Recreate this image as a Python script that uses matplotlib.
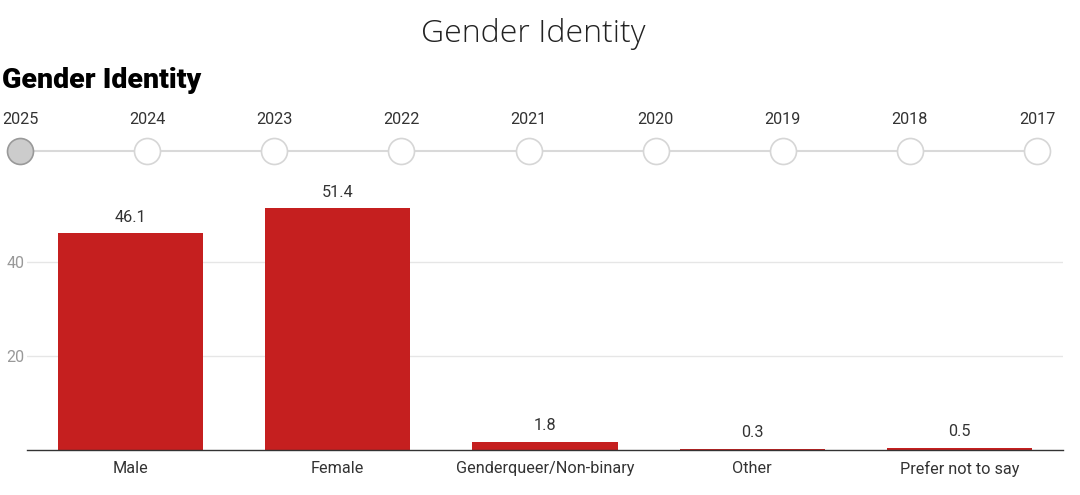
import numpy as np
import matplotlib.pyplot as plt

categories = ["Male", "Female", "Genderqueer/Non-binary", "Other", "Prefer not to say"]
values = [46.1, 51.4, 1.8, 0.3, 0.5]
years = ["2025", "2024", "2023", "2022", "2021", "2020", "2019", "2018", "2017"]
selected = "2025"

W, H = 1080, 495
fig = plt.figure(figsize=(W / 100, H / 100), dpi=100)
plt.rcParams['font.family'] = ['Roboto', 'DejaVu Sans']

# main bar axes, placed in pixels
left, right, top, bottom = 27, 1063, 175, 450
ax = fig.add_axes([left / W, 1 - bottom / H, (right - left) / W, (bottom - top) / H])
x = np.arange(len(categories))
bars = ax.bar(x, values, width=0.7, color='#c51f1f', zorder=3)
ax.set_xlim(-0.5, len(categories) - 0.5)
ax.set_ylim(0, (bottom - top) / 4.7)
ax.set_yticks([20, 40])
ax.set_xticks(x)
ax.set_xticklabels(categories, fontsize=11.7, color='#333333')
ax.tick_params(axis='x', length=0, pad=8)
ax.tick_params(axis='y', length=0, pad=2, labelsize=11.5, labelcolor='#999999')
ax.grid(axis='y', color='#e6e6e6', linewidth=1, zorder=0)
for s in ['top', 'right', 'left']:
    ax.spines[s].set_visible(False)
ax.spines['bottom'].set_color('#333333')
ax.spines['bottom'].set_linewidth(1)
ax.spines['bottom'].set_zorder(4)
for b, v in zip(bars, values):
    ax.annotate(f"{v}", (b.get_x() + b.get_width() / 2, v), xytext=(0, 6),
                textcoords='offset points', ha='center', va='bottom',
                fontsize=11.7, color='#333333')

# overlay for titles and year timeline, in pixel coords
ov = fig.add_axes([0, 0, 1, 1], zorder=-1)
ov.set_xlim(0, W)
ov.set_ylim(H, 0)
ov.axis('off')
ov.text(W / 2 - 7, 34, "Gender Identity", ha='center', va='center', fontsize=23,
        family='Open Sans', fontweight='light', color='#222222')
ov.text(2, 81, "Gender Identity", ha='left', va='center', fontsize=20.5,
        fontweight='black', color='#000000')

xs = np.linspace(20, 1037, len(years))
ov.plot([xs[0], xs[-1]], [151, 151], color='#d9d9d9', linewidth=1.5, zorder=1)
for xp, yr in zip(xs, years):
    on = yr == selected
    ov.scatter([xp], [151], s=350, color='#cccccc' if on else 'white',
               edgecolors='#999999' if on else '#d6d6d6', linewidths=1.2, zorder=2)
    ov.text(xp, 120, yr, ha='center', va='center', fontsize=11.7, color='#333333')

fig.savefig("out.png", dpi=100)
